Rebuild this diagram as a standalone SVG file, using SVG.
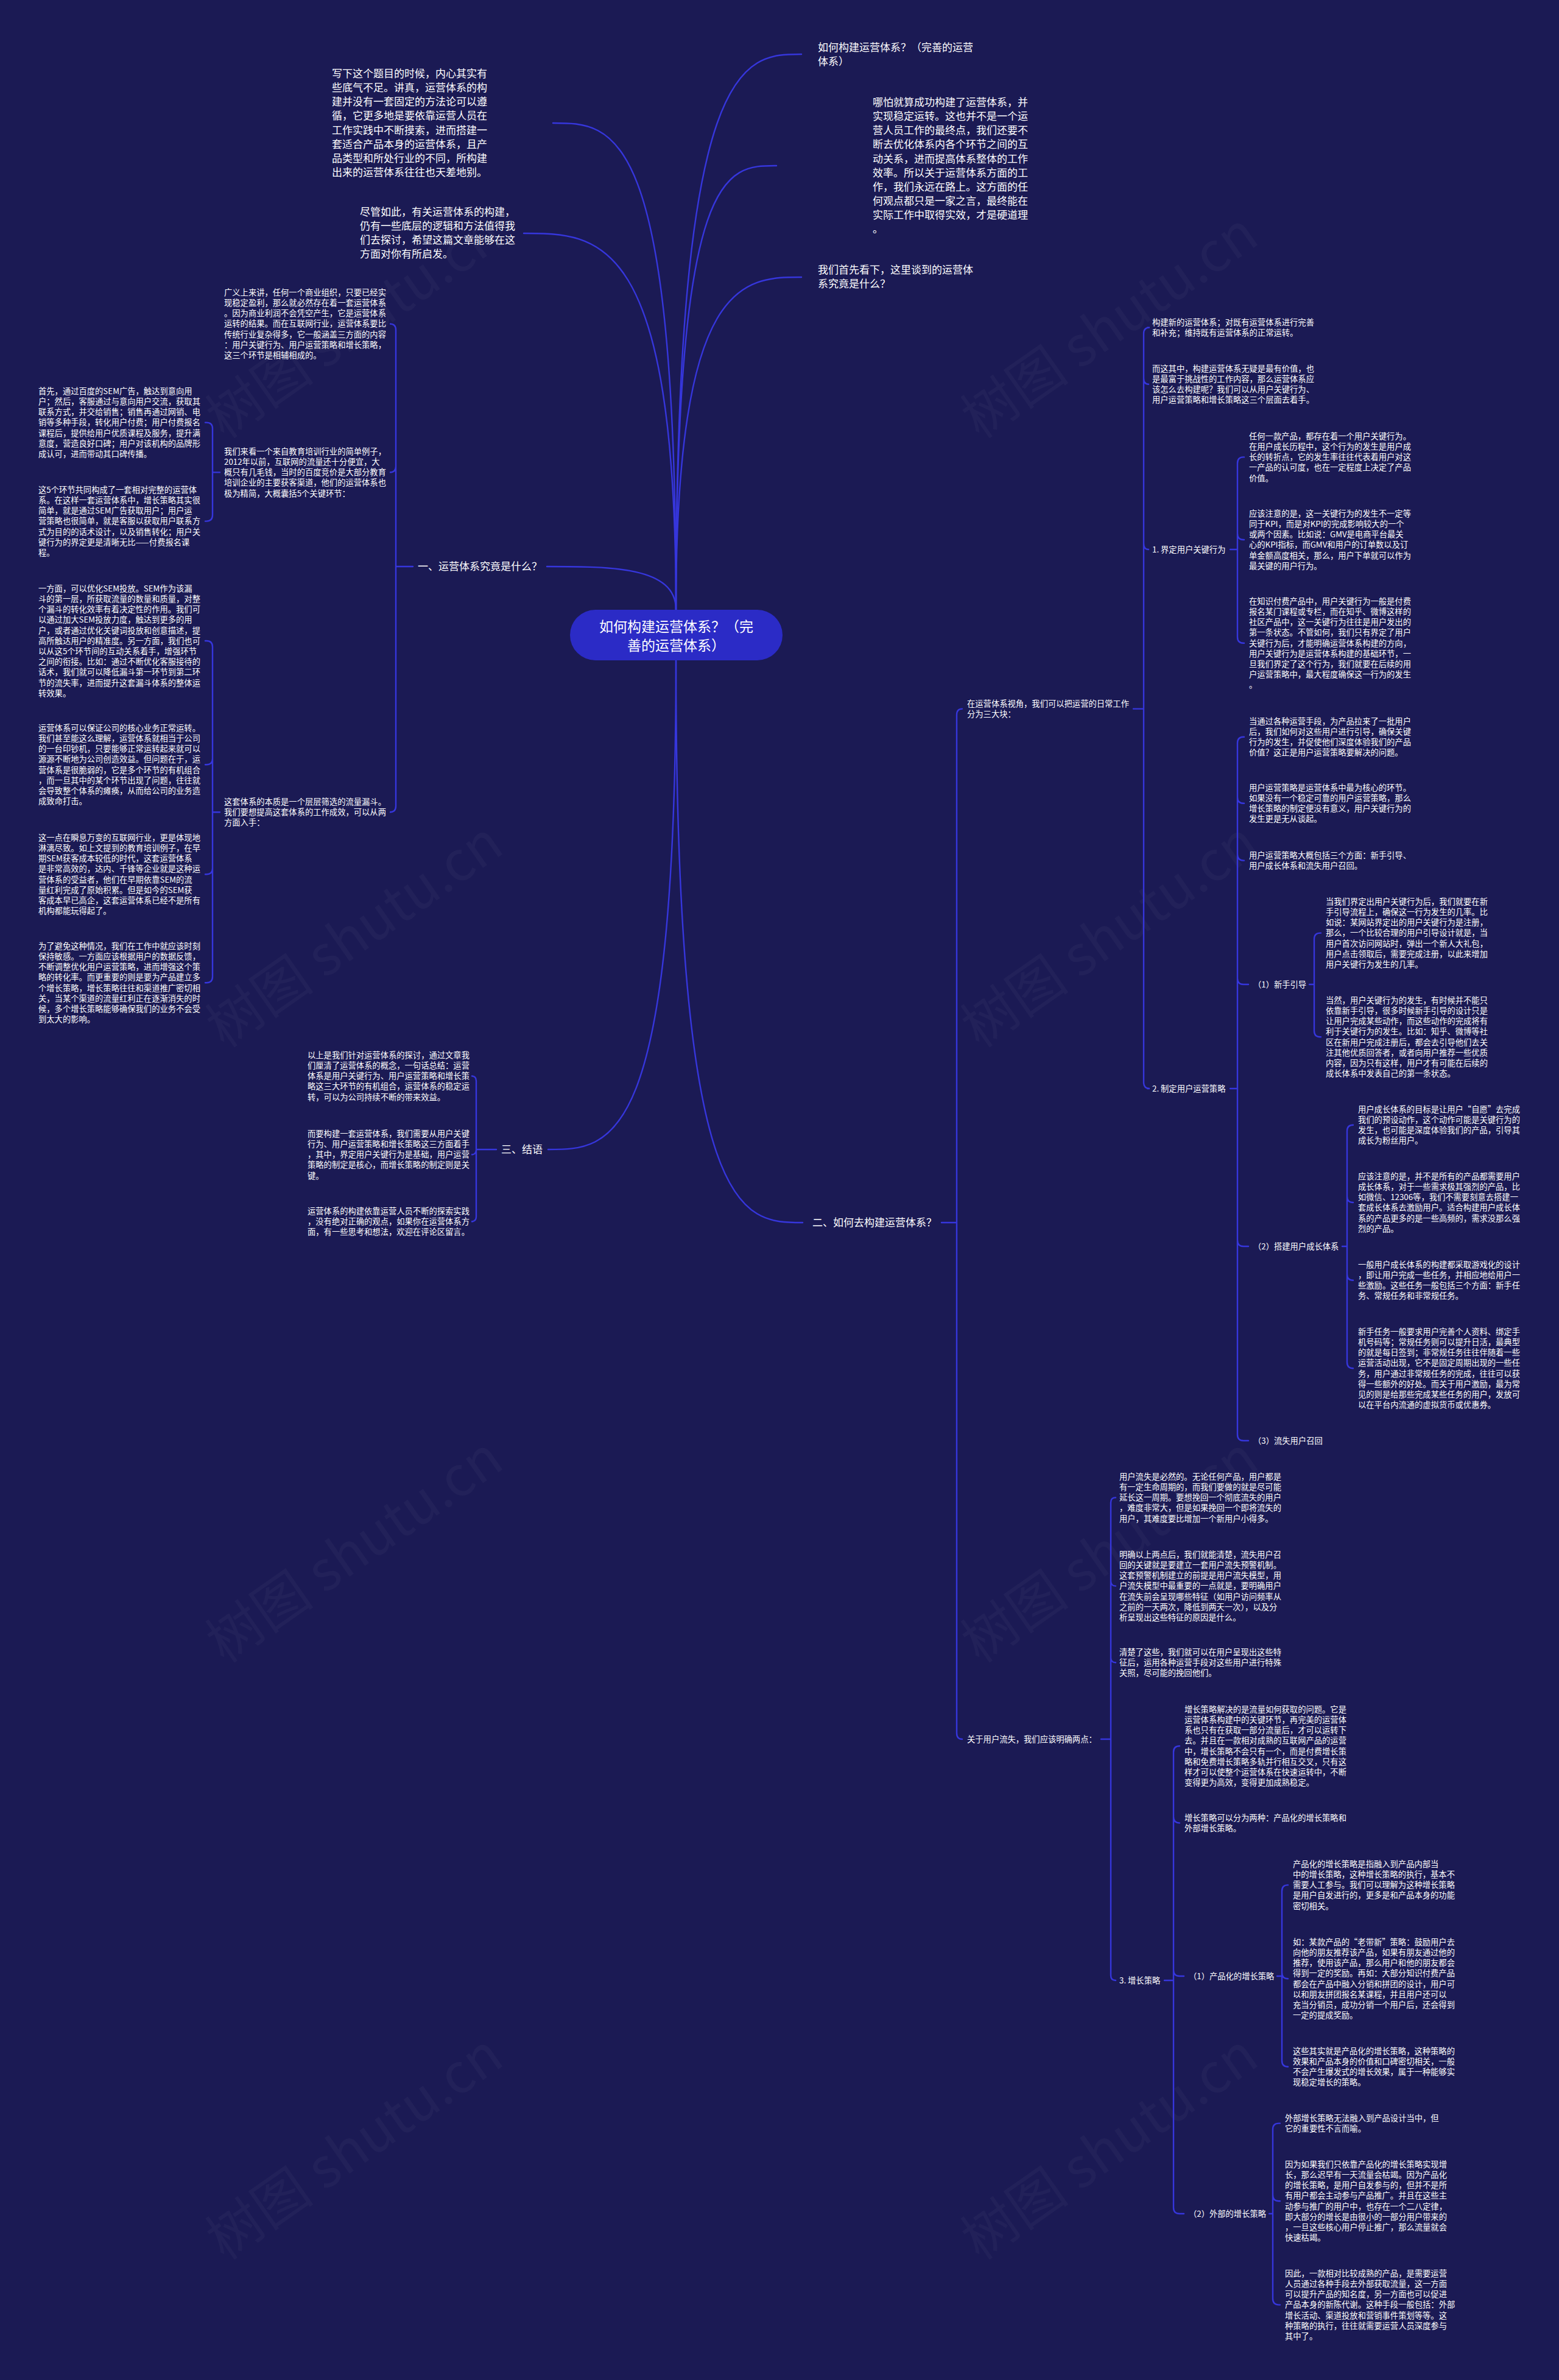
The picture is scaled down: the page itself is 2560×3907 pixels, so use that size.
<svg xmlns="http://www.w3.org/2000/svg" width="2560" height="3907" viewBox="0 0 2560 3907">
<style>
.t{font-family:"Noto Sans CJK SC","Noto Sans",sans-serif;fill:#ffffff}
.s{font-size:13.3px}
.b{font-size:17px}
.r{font-size:23px}
.c{fill:none;stroke:#3636dc;stroke-width:2.4;stroke-linecap:round}
.wm{font-family:"Noto Sans CJK SC","Liberation Sans",sans-serif;font-size:90px;fill:#ffffff;fill-opacity:0.03}
</style>
<rect x="0" y="0" width="2560" height="3907" fill="#1b1a54"/>
<g id="watermarks">
<text class="wm" text-anchor="middle" transform="translate(600,560) rotate(-35)">树图 shutu.cn</text>
<text class="wm" text-anchor="middle" transform="translate(1840,560) rotate(-35)">树图 shutu.cn</text>
<text class="wm" text-anchor="middle" transform="translate(600,1560) rotate(-35)">树图 shutu.cn</text>
<text class="wm" text-anchor="middle" transform="translate(1840,1560) rotate(-35)">树图 shutu.cn</text>
<text class="wm" text-anchor="middle" transform="translate(600,2570) rotate(-35)">树图 shutu.cn</text>
<text class="wm" text-anchor="middle" transform="translate(1840,2570) rotate(-35)">树图 shutu.cn</text>
<text class="wm" text-anchor="middle" transform="translate(600,3550) rotate(-35)">树图 shutu.cn</text>
<text class="wm" text-anchor="middle" transform="translate(1840,3550) rotate(-35)">树图 shutu.cn</text>
</g>
<g id="connectors">
<path class="c" d="M1110,1001 C1110,202 1009,202 908,202"/>
<path class="c" d="M1110,1001 C1110,383 984,383 860,383"/>
<path class="c" d="M1110,1001 C1110,930 1004,930 898,930"/>
<path class="c" d="M1110,1001 C1110,89 1221,89 1316,89"/>
<path class="c" d="M1110,1001 C1110,272 1192,272 1275,272"/>
<path class="c" d="M1110,1001 C1110,455 1221,455 1316,455"/>
<path class="c" d="M1110,1084 C1110,1887 1005,1887 900,1887"/>
<path class="c" d="M1110,1084 C1110,2007 1218,2007 1318,2007"/>
<path class="c" d="M641,531.6 H640 Q650,531.6 650,541.6 V1323.2 Q650,1333.2 640,1333.2 H641 M650,765.4 Q650,775.4 640,775.4 H641 M650,930 H678"/>
<path class="c" d="M337,693.6 H339 Q349,693.6 349,703.6 V845.6 Q349,855.6 339,855.6 H337 M349,775.4 H361"/>
<path class="c" d="M337,1052 H339 Q349,1052 349,1062 V1603.2 Q349,1613.2 339,1613.2 H337 M349,1245.2 Q349,1255.2 339,1255.2 H337 M349,1425.2 Q349,1435.2 339,1435.2 H337 M349,1333.2 H361"/>
<path class="c" d="M776,1766.4 H774 Q782,1766.4 782,1774.4 V1997.2 Q782,2005.2 774,2005.2 H776 M782,1887.4 Q782,1895.4 774,1895.4 H776 M782,1887 H815"/>
<path class="c" d="M1580,1163.6 Q1571,1163.6 1571,1173.6 V2845 Q1571,2855 1580,2855 M1571,2007 H1546"/>
<path class="c" d="M1884,537.6 H1888 Q1878,537.6 1878,547.6 V1777 Q1878,1787 1888,1787 H1884 M1878,620.8 Q1878,630.8 1886,630.8 M1878,892 Q1878,902 1886,902 M1878,1163.6 H1861"/>
<path class="c" d="M2043,750.4 H2042 Q2032,750.4 2032,760.4 V1045.8 Q2032,1055.8 2042,1055.8 H2043 M2032,876 Q2032,886 2042,886 H2043 M2032,902 H2020"/>
<path class="c" d="M2043,1209.8 H2042 Q2032,1209.8 2032,1219.8 V2355 Q2032,2365 2042,2365 H2050 M2032,1308.8 Q2032,1318.8 2042,1318.8 H2043 M2032,1402.6 Q2032,1412.6 2042,1412.6 H2043 M2032,1606 Q2032,1616 2042,1616 H2050 M2032,2036 Q2032,2046 2042,2046 H2050 M2032,1787 H2020"/>
<path class="c" d="M2169,1531.6 H2168 Q2158,1531.6 2158,1541.6 V1692.2 Q2158,1702.2 2168,1702.2 H2169 M2158,1616 H2150"/>
<path class="c" d="M2222,1846.8 Q2212,1846.8 2212,1856.8 V2236.2 Q2212,2246.2 2222,2246.2 M2212,1964 Q2212,1974 2222,1974 M2212,2091.8 Q2212,2101.8 2222,2101.8 M2212,2046 H2204"/>
<path class="c" d="M1832,2458.4 Q1824,2458.4 1824,2466.4 V3243 Q1824,3251 1832,3251 M1824,2595.6 Q1824,2603.6 1832,2603.6 M1824,2721.2 Q1824,2729.2 1832,2729.2 M1824,2855 H1808"/>
<path class="c" d="M1937,2866.2 Q1927,2866.2 1927,2876.2 V3624 Q1927,3634 1937,3634 H1944 M1927,2982.6 Q1927,2992.6 1937,2992.6 M1927,3234 Q1927,3244 1937,3244 H1944 M1927,3251 H1912"/>
<path class="c" d="M2115,3094.4 Q2105,3094.4 2105,3104.4 V3382.8 Q2105,3392.8 2115,3392.8 M2105,3238.2 Q2105,3248.2 2115,3248.2 M2105,3244 H2097"/>
<path class="c" d="M2102,3485.6 H2100 Q2090,3485.6 2090,3495.6 V3773.6 Q2090,3783.6 2100,3783.6 H2102 M2090,3603.2 Q2090,3613.2 2100,3613.2 H2102 M2090,3634 H2084"/>
</g>
<g id="root">
<rect x="936" y="1001" width="349" height="83" rx="41.5" fill="#2b2bc6"/>
<text class="t r" text-anchor="middle"><tspan x="1110.5" y="1037.3">如何构建运营体系？（完</tspan><tspan x="1110.5" y="1068.3">善的运营体系）</tspan></text>
</g>
<g id="n-t1"><text class="t b"><tspan x="545" y="127.1">写下这个题目的时候，内心其实有</tspan><tspan x="545" y="150.2">些底气不足。讲真，运营体系的构</tspan><tspan x="545" y="173.3">建并没有一套固定的方法论可以遵</tspan><tspan x="545" y="196.4">循，它更多地是要依靠运营人员在</tspan><tspan x="545" y="219.5">工作实践中不断摸索，进而搭建一</tspan><tspan x="545" y="242.6">套适合产品本身的运营体系，且产</tspan><tspan x="545" y="265.7">品类型和所处行业的不同，所构建</tspan><tspan x="545" y="288.8">出来的运营体系往往也天差地别。</tspan></text></g>
<g id="n-t2"><text class="t b"><tspan x="591" y="354.1">尽管如此，有关运营体系的构建，</tspan><tspan x="591" y="377.2">仍有一些底层的逻辑和方法值得我</tspan><tspan x="591" y="400.3">们去探讨，希望这篇文章能够在这</tspan><tspan x="591" y="423.4">方面对你有所启发。</tspan></text></g>
<g id="n-t3"><text class="t b"><tspan x="1343" y="84.1">如何构建运营体系？（完善的运营</tspan><tspan x="1343" y="107.2">体系）</tspan></text></g>
<g id="n-t4"><text class="t b"><tspan x="1433" y="174.1">哪怕就算成功构建了运营体系，并</tspan><tspan x="1433" y="197.2">实现稳定运转。这也并不是一个运</tspan><tspan x="1433" y="220.3">营人员工作的最终点，我们还要不</tspan><tspan x="1433" y="243.4">断去优化体系内各个环节之间的互</tspan><tspan x="1433" y="266.5">动关系，进而提高体系整体的工作</tspan><tspan x="1433" y="289.6">效率。所以关于运营体系方面的工</tspan><tspan x="1433" y="312.7">作，我们永远在路上。这方面的任</tspan><tspan x="1433" y="335.8">何观点都只是一家之言，最终能在</tspan><tspan x="1433" y="358.9">实际工作中取得实效，才是硬道理</tspan><tspan x="1433" y="382">。</tspan></text></g>
<g id="n-t5"><text class="t b"><tspan x="1343" y="449.1">我们首先看下，这里谈到的运营体</tspan><tspan x="1343" y="472.2">系究竟是什么？</tspan></text></g>
<g id="n-l1"><text class="t b" x="686" y="936.1">一、运营体系究竟是什么？</text></g>
<g id="n-l3"><text class="t b" x="823" y="1893.1">三、结语</text></g>
<g id="n-l2"><text class="t b" x="1334" y="2013.1">二、如何去构建运营体系？</text></g>
<g id="n-s1"><text class="t s"><tspan x="368" y="484.8">广义上来讲，任何一个商业组织，只要已经实</tspan><tspan x="368" y="502">现稳定盈利，那么就必然存在着一套运营体系</tspan><tspan x="368" y="519.2">。因为商业利润不会凭空产生，它是运营体系</tspan><tspan x="368" y="536.4">运转的结果。而在互联网行业，运营体系要比</tspan><tspan x="368" y="553.6">传统行业复杂得多，它一般涵盖三方面的内容</tspan><tspan x="368" y="570.8">：用户关键行为、用户运营策略和增长策略，</tspan><tspan x="368" y="588">这三个环节是相辅相成的。</tspan></text></g>
<g id="n-s2"><text class="t s"><tspan x="368" y="745.8">我们来看一个来自教育培训行业的简单例子，</tspan><tspan x="368" y="763">2012年以前，互联网的流量还十分便宜，大</tspan><tspan x="368" y="780.2">概只有几毛钱，当时的百度竞价是大部分教育</tspan><tspan x="368" y="797.4">培训企业的主要获客渠道，他们的运营体系也</tspan><tspan x="368" y="814.6">极为精简，大概囊括5个关键环节：</tspan></text></g>
<g id="n-s3"><text class="t s"><tspan x="368" y="1320.8">这套体系的本质是一个层层筛选的流量漏斗。</tspan><tspan x="368" y="1338">我们要想提高这套体系的工作成效，可以从两</tspan><tspan x="368" y="1355.2">方面入手：</tspan></text></g>
<g id="n-s4"><text class="t s"><tspan x="63" y="646.8">首先，通过百度的SEM广告，触达到意向用</tspan><tspan x="63" y="664">户；然后，客服通过与意向用户交流，获取其</tspan><tspan x="63" y="681.2">联系方式，并交给销售；销售再通过网销、电</tspan><tspan x="63" y="698.4">销等多种手段，转化用户付费；用户付费报名</tspan><tspan x="63" y="715.6">课程后，提供给用户优质课程及服务，提升满</tspan><tspan x="63" y="732.8">意度，营造良好口碑；用户对该机构的品牌形</tspan><tspan x="63" y="750">成认可，进而带动其口碑传播。</tspan></text></g>
<g id="n-s5"><text class="t s"><tspan x="63" y="808.8">这5个环节共同构成了一套相对完整的运营体</tspan><tspan x="63" y="826">系。在这样一套运营体系中，增长策略其实很</tspan><tspan x="63" y="843.2">简单，就是通过SEM广告获取用户；用户运</tspan><tspan x="63" y="860.4">营策略也很简单，就是客服以获取用户联系方</tspan><tspan x="63" y="877.6">式为目的的话术设计，以及销售转化；用户关</tspan><tspan x="63" y="894.8">键行为的界定更是清晰无比——付费报名课</tspan><tspan x="63" y="912">程。</tspan></text></g>
<g id="n-s6"><text class="t s"><tspan x="63" y="970.8">一方面，可以优化SEM投放。SEM作为该漏</tspan><tspan x="63" y="988">斗的第一层，所获取流量的数量和质量，对整</tspan><tspan x="63" y="1005.2">个漏斗的转化效率有着决定性的作用。我们可</tspan><tspan x="63" y="1022.4">以通过加大SEM投放力度，触达到更多的用</tspan><tspan x="63" y="1039.6">户，或者通过优化关键词投放和创意描述，提</tspan><tspan x="63" y="1056.8">高所触达用户的精准度。另一方面，我们也可</tspan><tspan x="63" y="1074">以从这5个环节间的互动关系着手，增强环节</tspan><tspan x="63" y="1091.2">之间的衔接。比如：通过不断优化客服接待的</tspan><tspan x="63" y="1108.4">话术，我们就可以降低漏斗第一环节到第二环</tspan><tspan x="63" y="1125.6">节的流失率，进而提升这套漏斗体系的整体运</tspan><tspan x="63" y="1142.8">转效果。</tspan></text></g>
<g id="n-s7"><text class="t s"><tspan x="63" y="1199.8">运营体系可以保证公司的核心业务正常运转。</tspan><tspan x="63" y="1217">我们甚至能这么理解，运营体系就相当于公司</tspan><tspan x="63" y="1234.2">的一台印钞机，只要能够正常运转起来就可以</tspan><tspan x="63" y="1251.4">源源不断地为公司创造效益。但问题在于，运</tspan><tspan x="63" y="1268.6">营体系是很脆弱的，它是多个环节的有机组合</tspan><tspan x="63" y="1285.8">，而一旦其中的某个环节出现了问题，往往就</tspan><tspan x="63" y="1303">会导致整个体系的瘫痪，从而给公司的业务造</tspan><tspan x="63" y="1320.2">成致命打击。</tspan></text></g>
<g id="n-s8"><text class="t s"><tspan x="63" y="1379.8">这一点在瞬息万变的互联网行业，更是体现地</tspan><tspan x="63" y="1397">淋漓尽致。如上文提到的教育培训例子，在早</tspan><tspan x="63" y="1414.2">期SEM获客成本较低的时代，这套运营体系</tspan><tspan x="63" y="1431.4">是非常高效的，达内、千锋等企业就是这种运</tspan><tspan x="63" y="1448.6">营体系的受益者，他们在早期依靠SEM的流</tspan><tspan x="63" y="1465.8">量红利完成了原始积累。但是如今的SEM获</tspan><tspan x="63" y="1483">客成本早已高企，这套运营体系已经不是所有</tspan><tspan x="63" y="1500.2">机构都能玩得起了。</tspan></text></g>
<g id="n-s9"><text class="t s"><tspan x="63" y="1557.8">为了避免这种情况，我们在工作中就应该时刻</tspan><tspan x="63" y="1575">保持敏感。一方面应该根据用户的数据反馈，</tspan><tspan x="63" y="1592.2">不断调整优化用户运营策略，进而增强这个策</tspan><tspan x="63" y="1609.4">略的转化率。而更重要的则是要为产品建立多</tspan><tspan x="63" y="1626.6">个增长策略，增长策略往往和渠道推广密切相</tspan><tspan x="63" y="1643.8">关，当某个渠道的流量红利正在逐渐消失的时</tspan><tspan x="63" y="1661">候，多个增长策略能够确保我们的业务不会受</tspan><tspan x="63" y="1678.2">到太大的影响。</tspan></text></g>
<g id="n-s10"><text class="t s"><tspan x="505" y="1736.8">以上是我们针对运营体系的探讨，通过文章我</tspan><tspan x="505" y="1754">们厘清了运营体系的概念，一句话总结：运营</tspan><tspan x="505" y="1771.2">体系是用户关键行为、用户运营策略和增长策</tspan><tspan x="505" y="1788.4">略这三大环节的有机组合，运营体系的稳定运</tspan><tspan x="505" y="1805.6">转，可以为公司持续不断的带来效益。</tspan></text></g>
<g id="n-s11"><text class="t s"><tspan x="505" y="1865.8">而要构建一套运营体系，我们需要从用户关键</tspan><tspan x="505" y="1883">行为、用户运营策略和增长策略这三方面着手</tspan><tspan x="505" y="1900.2">，其中，界定用户关键行为是基础，用户运营</tspan><tspan x="505" y="1917.4">策略的制定是核心，而增长策略的制定则是关</tspan><tspan x="505" y="1934.6">键。</tspan></text></g>
<g id="n-s12"><text class="t s"><tspan x="505" y="1992.8">运营体系的构建依靠运营人员不断的探索实践</tspan><tspan x="505" y="2010">，没有绝对正确的观点，如果你在运营体系方</tspan><tspan x="505" y="2027.2">面，有一些思考和想法，欢迎在评论区留言。</tspan></text></g>
<g id="n-r1"><text class="t s"><tspan x="1588" y="1159.8">在运营体系视角，我们可以把运营的日常工作</tspan><tspan x="1588" y="1177">分为三大块：</tspan></text></g>
<g id="n-r2"><text class="t s" x="1588" y="2859.8">关于用户流失，我们应该明确两点：</text></g>
<g id="n-r3"><text class="t s"><tspan x="1892" y="533.8">构建新的运营体系；对既有运营体系进行完善</tspan><tspan x="1892" y="551">和补充；维持既有运营体系的正常运转。</tspan></text></g>
<g id="n-r4"><text class="t s"><tspan x="1892" y="609.8">而这其中，构建运营体系无疑是最有价值，也</tspan><tspan x="1892" y="627">是最富于挑战性的工作内容，那么运营体系应</tspan><tspan x="1892" y="644.2">该怎么去构建呢？我们可以从用户关键行为、</tspan><tspan x="1892" y="661.4">用户运营策略和增长策略这三个层面去着手。</tspan></text></g>
<g id="n-r5"><text class="t s" x="1892" y="906.8">1. 界定用户关键行为</text></g>
<g id="n-r6"><text class="t s" x="1892" y="1791.8">2. 制定用户运营策略</text></g>
<g id="n-r7"><text class="t s"><tspan x="2051" y="720.8">任何一款产品，都存在着一个用户关键行为。</tspan><tspan x="2051" y="738">在用户成长历程中，这个行为的发生是用户成</tspan><tspan x="2051" y="755.2">长的转折点，它的发生率往往代表着用户对这</tspan><tspan x="2051" y="772.4">一产品的认可度，也在一定程度上决定了产品</tspan><tspan x="2051" y="789.6">价值。</tspan></text></g>
<g id="n-r8"><text class="t s"><tspan x="2051" y="847.8">应该注意的是，这一关键行为的发生不一定等</tspan><tspan x="2051" y="865">同于KPI，而是对KPI的完成影响较大的一个</tspan><tspan x="2051" y="882.2">或两个因素。比如说：GMV是电商平台最关</tspan><tspan x="2051" y="899.4">心的KPI指标，而GMV和用户的订单数以及订</tspan><tspan x="2051" y="916.6">单金额高度相关，那么，用户下单就可以作为</tspan><tspan x="2051" y="933.8">最关键的用户行为。</tspan></text></g>
<g id="n-r9"><text class="t s"><tspan x="2051" y="991.8">在知识付费产品中，用户关键行为一般是付费</tspan><tspan x="2051" y="1009">报名某门课程或专栏，而在知乎、微博这样的</tspan><tspan x="2051" y="1026.2">社区产品中，这一关键行为往往是用户发出的</tspan><tspan x="2051" y="1043.4">第一条状态。不管如何，我们只有界定了用户</tspan><tspan x="2051" y="1060.6">关键行为后，才能明确运营体系构建的方向，</tspan><tspan x="2051" y="1077.8">用户关键行为是运营体系构建的基础环节，一</tspan><tspan x="2051" y="1095">旦我们界定了这个行为，我们就要在后续的用</tspan><tspan x="2051" y="1112.2">户运营策略中，最大程度确保这一行为的发生</tspan><tspan x="2051" y="1129.4">。</tspan></text></g>
<g id="n-r10"><text class="t s"><tspan x="2051" y="1188.8">当通过各种运营手段，为产品拉来了一批用户</tspan><tspan x="2051" y="1206">后，我们如何对这些用户进行引导，确保关键</tspan><tspan x="2051" y="1223.2">行为的发生，并促使他们深度体验我们的产品</tspan><tspan x="2051" y="1240.4">价值？这正是用户运营策略要解决的问题。</tspan></text></g>
<g id="n-r11"><text class="t s"><tspan x="2051" y="1297.8">用户运营策略是运营体系中最为核心的环节。</tspan><tspan x="2051" y="1315">如果没有一个稳定可靠的用户运营策略，那么</tspan><tspan x="2051" y="1332.2">增长策略的制定便没有意义，用户关键行为的</tspan><tspan x="2051" y="1349.4">发生更是无从谈起。</tspan></text></g>
<g id="n-r12"><text class="t s"><tspan x="2051" y="1408.8">用户运营策略大概包括三个方面：新手引导、</tspan><tspan x="2051" y="1426">用户成长体系和流失用户召回。</tspan></text></g>
<g id="n-r13"><text class="t s" x="2058" y="1620.8">（1）新手引导</text></g>
<g id="n-r14"><text class="t s" x="2058" y="2050.8">（2）搭建用户成长体系</text></g>
<g id="n-r15"><text class="t s" x="2058" y="2369.8">（3）流失用户召回</text></g>
<g id="n-r16"><text class="t s"><tspan x="2177" y="1484.8">当我们界定出用户关键行为后，我们就要在新</tspan><tspan x="2177" y="1502">手引导流程上，确保这一行为发生的几率。比</tspan><tspan x="2177" y="1519.2">如说：某网站界定出的用户关键行为是注册，</tspan><tspan x="2177" y="1536.4">那么，一个比较合理的用户引导设计就是，当</tspan><tspan x="2177" y="1553.6">用户首次访问网站时，弹出一个新人大礼包，</tspan><tspan x="2177" y="1570.8">用户点击领取后，需要完成注册，以此来增加</tspan><tspan x="2177" y="1588">用户关键行为发生的几率。</tspan></text></g>
<g id="n-r17"><text class="t s"><tspan x="2177" y="1646.8">当然，用户关键行为的发生，有时候并不能只</tspan><tspan x="2177" y="1664">依靠新手引导，很多时候新手引导的设计只是</tspan><tspan x="2177" y="1681.2">让用户完成某些动作，而这些动作的完成将有</tspan><tspan x="2177" y="1698.4">利于关键行为的发生。比如：知乎、微博等社</tspan><tspan x="2177" y="1715.6">区在新用户完成注册后，都会去引导他们去关</tspan><tspan x="2177" y="1732.8">注其他优质回答者，或者向用户推荐一些优质</tspan><tspan x="2177" y="1750">内容，因为只有这样，用户才有可能在后续的</tspan><tspan x="2177" y="1767.2">成长体系中发表自己的第一条状态。</tspan></text></g>
<g id="n-r18"><text class="t s"><tspan x="2230" y="1825.8">用户成长体系的目标是让用户“自愿”去完成</tspan><tspan x="2230" y="1843">我们的预设动作，这个动作可能是关键行为的</tspan><tspan x="2230" y="1860.2">发生，也可能是深度体验我们的产品，引导其</tspan><tspan x="2230" y="1877.4">成长为粉丝用户。</tspan></text></g>
<g id="n-r19"><text class="t s"><tspan x="2230" y="1935.8">应该注意的是，并不是所有的产品都需要用户</tspan><tspan x="2230" y="1953">成长体系，对于一些需求极其强烈的产品，比</tspan><tspan x="2230" y="1970.2">如微信、12306等，我们不需要刻意去搭建一</tspan><tspan x="2230" y="1987.4">套成长体系去激励用户。适合构建用户成长体</tspan><tspan x="2230" y="2004.6">系的产品更多的是一些高频的，需求没那么强</tspan><tspan x="2230" y="2021.8">烈的产品。</tspan></text></g>
<g id="n-r20"><text class="t s"><tspan x="2230" y="2080.8">一般用户成长体系的构建都采取游戏化的设计</tspan><tspan x="2230" y="2098">，即让用户完成一些任务，并相应地给用户一</tspan><tspan x="2230" y="2115.2">些激励。这些任务一般包括三个方面：新手任</tspan><tspan x="2230" y="2132.4">务、常规任务和非常规任务。</tspan></text></g>
<g id="n-r21"><text class="t s"><tspan x="2230" y="2190.8">新手任务一般要求用户完善个人资料、绑定手</tspan><tspan x="2230" y="2208">机号码等；常规任务则可以提升日活，最典型</tspan><tspan x="2230" y="2225.2">的就是每日签到；非常规任务往往伴随着一些</tspan><tspan x="2230" y="2242.4">运营活动出现，它不是固定周期出现的一些任</tspan><tspan x="2230" y="2259.6">务，用户通过非常规任务的完成，往往可以获</tspan><tspan x="2230" y="2276.8">得一些额外的好处。而关于用户激励，最为常</tspan><tspan x="2230" y="2294">见的则是给那些完成某些任务的用户，发放可</tspan><tspan x="2230" y="2311.2">以在平台内流通的虚拟货币或优惠券。</tspan></text></g>
<g id="n-r22"><text class="t s"><tspan x="1838" y="2428.8">用户流失是必然的。无论任何产品，用户都是</tspan><tspan x="1838" y="2446">有一定生命周期的，而我们要做的就是尽可能</tspan><tspan x="1838" y="2463.2">延长这一周期。要想挽回一个彻底流失的用户</tspan><tspan x="1838" y="2480.4">，难度非常大，但是如果挽回一个即将流失的</tspan><tspan x="1838" y="2497.6">用户，其难度要比增加一个新用户小得多。</tspan></text></g>
<g id="n-r23"><text class="t s"><tspan x="1838" y="2556.8">明确以上两点后，我们就能清楚，流失用户召</tspan><tspan x="1838" y="2574">回的关键就是要建立一套用户流失预警机制。</tspan><tspan x="1838" y="2591.2">这套预警机制建立的前提是用户流失模型，用</tspan><tspan x="1838" y="2608.4">户流失模型中最重要的一点就是，要明确用户</tspan><tspan x="1838" y="2625.6">在流失前会呈现哪些特征（如用户访问频率从</tspan><tspan x="1838" y="2642.8">之前的一天两次，降低到两天一次），以及分</tspan><tspan x="1838" y="2660">析呈现出这些特征的原因是什么。</tspan></text></g>
<g id="n-r24"><text class="t s"><tspan x="1838" y="2716.8">清楚了这些，我们就可以在用户呈现出这些特</tspan><tspan x="1838" y="2734">征后，运用各种运营手段对这些用户进行特殊</tspan><tspan x="1838" y="2751.2">关照，尽可能的挽回他们。</tspan></text></g>
<g id="n-r25"><text class="t s" x="1838" y="3255.8">3. 增长策略</text></g>
<g id="n-r26"><text class="t s"><tspan x="1945" y="2810.8">增长策略解决的是流量如何获取的问题。它是</tspan><tspan x="1945" y="2828">运营体系构建中的关键环节，再完美的运营体</tspan><tspan x="1945" y="2845.2">系也只有在获取一部分流量后，才可以运转下</tspan><tspan x="1945" y="2862.4">去。并且在一款相对成熟的互联网产品的运营</tspan><tspan x="1945" y="2879.6">中，增长策略不会只有一个，而是付费增长策</tspan><tspan x="1945" y="2896.8">略和免费增长策略多轨并行相互交叉，只有这</tspan><tspan x="1945" y="2914">样才可以使整个运营体系在快速运转中，不断</tspan><tspan x="1945" y="2931.2">变得更为高效，变得更加成熟稳定。</tspan></text></g>
<g id="n-r27"><text class="t s"><tspan x="1945" y="2988.8">增长策略可以分为两种：产品化的增长策略和</tspan><tspan x="1945" y="3006">外部增长策略。</tspan></text></g>
<g id="n-r28"><text class="t s" x="1952" y="3248.8">（1）产品化的增长策略</text></g>
<g id="n-r29"><text class="t s" x="1952" y="3638.8">（2）外部的增长策略</text></g>
<g id="n-r30"><text class="t s"><tspan x="2123" y="3064.8">产品化的增长策略是指融入到产品内部当</tspan><tspan x="2123" y="3082">中的增长策略，这种增长策略的执行，基本不</tspan><tspan x="2123" y="3099.2">需要人工参与。我们可以理解为这种增长策略</tspan><tspan x="2123" y="3116.4">是用户自发进行的，更多是和产品本身的功能</tspan><tspan x="2123" y="3133.6">密切相关。</tspan></text></g>
<g id="n-r31"><text class="t s"><tspan x="2123" y="3192.8">如：某款产品的“老带新”策略：鼓励用户去</tspan><tspan x="2123" y="3210">向他的朋友推荐该产品，如果有朋友通过他的</tspan><tspan x="2123" y="3227.2">推荐，使用该产品，那么用户和他的朋友都会</tspan><tspan x="2123" y="3244.4">得到一定的奖励。再如：大部分知识付费产品</tspan><tspan x="2123" y="3261.6">都会在产品中融入分销和拼团的设计，用户可</tspan><tspan x="2123" y="3278.8">以和朋友拼团报名某课程，并且用户还可以</tspan><tspan x="2123" y="3296">充当分销员，成功分销一个用户后，还会得到</tspan><tspan x="2123" y="3313.2">一定的提成奖励。</tspan></text></g>
<g id="n-r32"><text class="t s"><tspan x="2123" y="3371.8">这些其实就是产品化的增长策略，这种策略的</tspan><tspan x="2123" y="3389">效果和产品本身的价值和口碑密切相关，一般</tspan><tspan x="2123" y="3406.2">不会产生爆发式的增长效果，属于一种能够实</tspan><tspan x="2123" y="3423.4">现稳定增长的策略。</tspan></text></g>
<g id="n-r33"><text class="t s"><tspan x="2110" y="3481.8">外部增长策略无法融入到产品设计当中，但</tspan><tspan x="2110" y="3499">它的重要性不言而喻。</tspan></text></g>
<g id="n-r34"><text class="t s"><tspan x="2110" y="3557.8">因为如果我们只依靠产品化的增长策略实现增</tspan><tspan x="2110" y="3575">长，那么迟早有一天流量会枯竭。因为产品化</tspan><tspan x="2110" y="3592.2">的增长策略，是用户自发参与的，但并不是所</tspan><tspan x="2110" y="3609.4">有用户都会主动参与产品推广。并且在这些主</tspan><tspan x="2110" y="3626.6">动参与推广的用户中，也存在一个二八定律，</tspan><tspan x="2110" y="3643.8">即大部分的增长是由很小的一部分用户带来的</tspan><tspan x="2110" y="3661">，一旦这些核心用户停止推广，那么流量就会</tspan><tspan x="2110" y="3678.2">快速枯竭。</tspan></text></g>
<g id="n-r35"><text class="t s"><tspan x="2110" y="3736.8">因此，一款相对比较成熟的产品，是需要运营</tspan><tspan x="2110" y="3754">人员通过各种手段去外部获取流量，这一方面</tspan><tspan x="2110" y="3771.2">可以提升产品的知名度，另一方面也可以促进</tspan><tspan x="2110" y="3788.4">产品本身的新陈代谢。这种手段一般包括：外部</tspan><tspan x="2110" y="3805.6">增长活动、渠道投放和营销事件策划等等。这</tspan><tspan x="2110" y="3822.8">种策略的执行，往往就需要运营人员深度参与</tspan><tspan x="2110" y="3840">其中了。</tspan></text></g>
</svg>
